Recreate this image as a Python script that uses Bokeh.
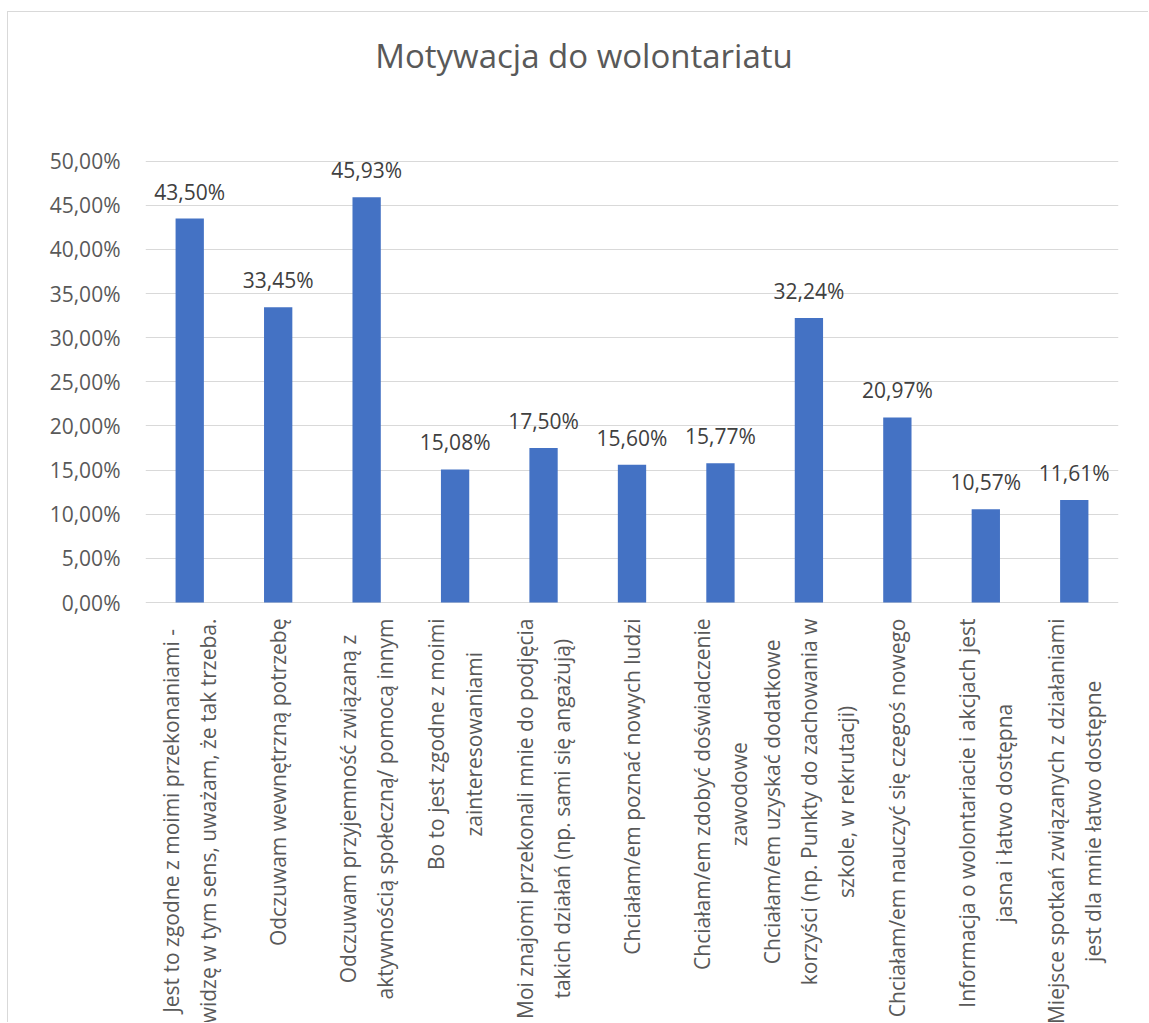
import math
from bokeh.plotting import figure
from bokeh.models import (ColumnDataSource, FactorRange, Range1d, FixedTicker,
                          CustomJSTickFormatter, LabelSet, Label)
from bokeh.core.properties import value
from bokeh.embed import file_html
from bokeh.resources import INLINE

# ---- data ----
categories = [
    "Jest to zgodne z moimi przekonaniami -\nwidzę w tym sens, uważam, że tak trzeba.",
    "Odczuwam wewnętrzną potrzebę",
    "Odczuwam przyjemność związaną z\naktywnością społeczną/ pomocą innym",
    "Bo to jest zgodne z moimi\nzainteresowaniami",
    "Moi znajomi przekonali mnie do podjęcia\ntakich działań (np. sami się angażują)",
    "Chciałam/em poznać nowych ludzi",
    "Chciałam/em zdobyć doświadczenie\nzawodowe",
    "Chciałam/em uzyskać dodatkowe\nkorzyści (np. Punkty do zachowania w\nszkole, w rekrutacji)",
    "Chciałam/em nauczyć się czegoś nowego",
    "Informacja o wolontariacie i akcjach jest\njasna i łatwo dostępna",
    "Miejsce spotkań związanych z działaniami\njest dla mnie łatwo dostępne",
]
values = [43.50, 33.45, 45.93, 15.08, 17.50, 15.60, 15.77, 32.24, 20.97, 10.57, 11.61]
value_labels = [f"{v:.2f}".replace(".", ",") + "%" for v in values]
y_ticks = [0, 5, 10, 15, 20, 25, 30, 35, 40, 45, 50]
title_text = "Motywacja do wolontariatu"

FONT = "Open Sans"
BAR = "#4472C4"
GRID = "#d9d9d9"
TXT = "#595959"

src = ColumnDataSource(dict(cat=categories, val=values, lab=value_labels))

# the frame covers the whole chart area (title above, category labels below)
p = figure(
    x_range=FactorRange(factors=categories),
    y_range=Range1d(-47.7, 66.85),
    width=1141, height=1011,
    output_backend="svg", toolbar_location=None,
    min_border_left=137, min_border_right=31,
    min_border_top=0, min_border_bottom=0,
)
p.styles = {"margin-left": "7px", "margin-top": "11px",
            "border-left": "1px solid #d9d9d9", "border-top": "1px solid #d9d9d9"}
p.outline_line_color = None
p.background_fill_color = "white"
p.border_fill_color = "white"

p.vbar(x="cat", top="val", width=0.32, source=src, fill_color=BAR, line_color=None)

# y axis (ticks only 0..50 %)
ticker = FixedTicker(ticks=y_ticks)
p.yaxis.ticker = ticker
p.ygrid.ticker = ticker
p.yaxis.formatter = CustomJSTickFormatter(code="return tick.toFixed(2).replace('.', ',') + '%';")
p.yaxis.axis_line_color = None
p.yaxis.major_tick_line_color = None
p.yaxis.minor_tick_line_color = None
p.yaxis.major_label_standoff = 19
p.yaxis.major_label_text_font = FONT
p.yaxis.major_label_text_font_size = "21px"
p.yaxis.major_label_text_color = TXT

p.xaxis.visible = False
p.xgrid.grid_line_color = None
p.ygrid.grid_line_color = GRID
p.ygrid.grid_line_width = 1

# title
p.add_layout(Label(x=5.5, y=62.0, x_offset=-48, text=title_text,
                   text_align="center", text_baseline="alphabetic",
                   text_font=FONT, text_font_size="33px", text_color=TXT))

# data labels
p.add_layout(LabelSet(x="cat", y="val", text="lab", source=src, y_offset=19,
                      text_align="center", text_baseline="alphabetic",
                      text_font=value(FONT), text_font_size="21px", text_color="#404040"))

# category labels (rotated, lines centred)
p.text(x="cat", y=0, text="cat", source=src, angle=math.pi / 2,
       anchor="center_right", text_align="center", y_offset=16,
       text_font=value(FONT), text_font_size="21px", text_color=TXT,
       text_line_height=1.33)

open("out.html", "w").write(file_html(p, INLINE))
